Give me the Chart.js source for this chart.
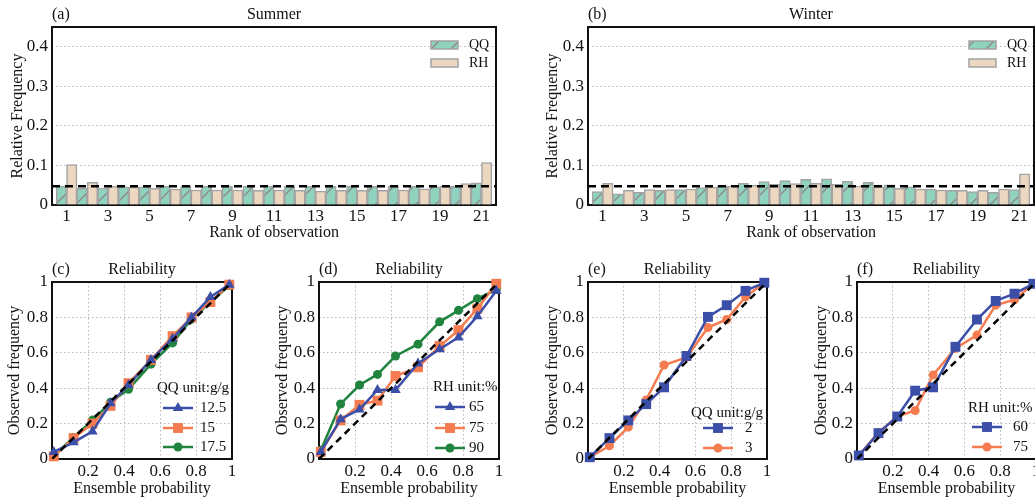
<!DOCTYPE html>
<html>
<head>
<meta charset="utf-8">
<script src="https://cdn.jsdelivr.net/npm/chart.js@4.4.1/dist/chart.umd.min.js"></script>
<style>
  body { margin: 0; width: 1035px; height: 501px; overflow: hidden; background: #fff; position: relative; }
  canvas { position: absolute; }
</style>
</head>
<body>
<canvas id="chartA" width="535" height="245" style="left:0;top:0"></canvas>
<canvas id="chartB" width="512" height="245" style="left:535px;top:0"></canvas>
<canvas id="chartC" width="268" height="256" style="left:0;top:245px"></canvas>
<canvas id="chartD" width="270" height="256" style="left:268px;top:245px"></canvas>
<canvas id="chartE" width="269" height="256" style="left:538px;top:245px"></canvas>
<canvas id="chartF" width="240" height="256" style="left:807px;top:245px"></canvas>

<script>
// rank histogram data (21 ranks)
const ranks = [1, 2, 3, 4, 5, 6, 7, 8, 9, 10, 11, 12, 13, 14, 15, 16, 17, 18, 19, 20, 21];
const rankTicks = [1, 3, 5, 7, 9, 11, 13, 15, 17, 19, 21];
const freqTicks = [0, 0.1, 0.2, 0.3, 0.4];
const uniformFreq = 1 / 21;

const summerQQ = [0.048, 0.042, 0.043, 0.046, 0.046, 0.047, 0.047, 0.047, 0.047, 0.047, 0.048,
                  0.048, 0.047, 0.047, 0.047, 0.047, 0.047, 0.047, 0.046, 0.047, 0.056];
const summerRH = [0.102, 0.057, 0.047, 0.045, 0.042, 0.040, 0.038, 0.038, 0.038, 0.037, 0.038,
                  0.037, 0.035, 0.037, 0.037, 0.037, 0.038, 0.041, 0.047, 0.054, 0.107];
const winterQQ = [0.034, 0.028, 0.032, 0.037, 0.039, 0.044, 0.048, 0.055, 0.059, 0.062, 0.065,
                  0.066, 0.060, 0.057, 0.051, 0.046, 0.040, 0.037, 0.034, 0.032, 0.039];
const winterRH = [0.055, 0.037, 0.039, 0.039, 0.040, 0.045, 0.048, 0.050, 0.052, 0.054, 0.055,
                  0.052, 0.048, 0.046, 0.042, 0.040, 0.038, 0.037, 0.037, 0.040, 0.079];

// reliability diagrams
const probBins = [0.01, 0.12, 0.225, 0.325, 0.425, 0.55, 0.67, 0.775, 0.88, 0.985];
const probTicks = [0, 0.2, 0.4, 0.6, 0.8, 1];
const diagonal = [0, 1];

const qqSummer125 = [0.040, 0.094, 0.156, 0.315, 0.418, 0.560, 0.680, 0.800, 0.915, 0.985];
const qqSummer15  = [0.015, 0.118, 0.200, 0.300, 0.428, 0.560, 0.694, 0.800, 0.887, 0.985];
const qqSummer175 = [0.020, 0.122, 0.220, 0.320, 0.394, 0.536, 0.656, 0.790, 0.885, 0.980];

const rhSummer65 = [0.040, 0.225, 0.280, 0.390, 0.390, 0.540, 0.620, 0.687, 0.807, 0.950];
const rhSummer75 = [0.040, 0.218, 0.306, 0.330, 0.469, 0.518, 0.638, 0.728, 0.850, 0.990];
const rhSummer90 = [0.050, 0.311, 0.418, 0.478, 0.582, 0.649, 0.775, 0.840, 0.906, 0.957];

const qqWinter2 = [0.010, 0.118, 0.218, 0.310, 0.405, 0.582, 0.803, 0.869, 0.950, 0.996];
const qqWinter3 = [0.010, 0.075, 0.180, 0.334, 0.531, 0.574, 0.743, 0.788, 0.916, 0.996];

const rhWinter60 = [0.020, 0.146, 0.240, 0.386, 0.405, 0.634, 0.788, 0.893, 0.934, 0.990];
const rhWinter75 = [0.020, 0.150, 0.240, 0.274, 0.475, 0.625, 0.700, 0.869, 0.900, 0.990];

// colours
const mint = '#8fd3bf';
const tan = '#ecd8c0';
const barEdge = '#a3a3a3';
const blue = '#3c4fa8';
const orange = '#f47c50';
const green = '#20843f';

Chart.defaults.font.family = '"Liberation Serif", "DejaVu Serif", serif';
Chart.defaults.color = '#111';
Chart.defaults.animation = false;

function hatch(bg) {
  const c = document.createElement('canvas');
  c.width = 20; c.height = 20;
  const g = c.getContext('2d');
  g.fillStyle = bg;
  g.fillRect(0, 0, 20, 20);
  g.strokeStyle = '#8c8c8c';
  g.lineWidth = 1.5;
  g.beginPath();
  g.moveTo(0, 20); g.lineTo(20, 0);
  g.moveTo(-5, 5); g.lineTo(5, -5);
  g.moveTo(15, 25); g.lineTo(25, 15);
  g.stroke();
  return g.createPattern(c, 'repeat');
}

// frame + panel titles
const panelPlugin = {
  id: 'panel',
  beforeDatasetsDraw(chart) {
    const a = chart.chartArea, ctx = chart.ctx;
    ctx.save();
    ctx.strokeStyle = '#111';
    ctx.lineWidth = 2;
    ctx.strokeRect(a.left, a.top, a.right - a.left, a.bottom - a.top);
    ctx.restore();
  },
  afterDraw(chart, args, opts) {
    const a = chart.chartArea, ctx = chart.ctx;
    ctx.save();
    ctx.fillStyle = '#111';
    ctx.font = '16px "Liberation Serif", serif';
    ctx.textBaseline = 'middle';
    ctx.textAlign = 'left';
    ctx.fillText(opts.tag, a.left, a.top - 12);
    ctx.textAlign = 'center';
    ctx.fillText(opts.title, (a.left + a.right) / 2, a.top - 12);
    ctx.restore();
  }
};

// legend inside the rank histograms
const barLegend = {
  id: 'barLegend',
  afterDraw(chart) {
    const a = chart.chartArea, ctx = chart.ctx;
    const items = chart.data.datasets.filter(d => d.type !== 'line');
    ctx.save();
    ctx.font = '14px "Liberation Serif", serif';
    ctx.textBaseline = 'middle';
    items.forEach((d, i) => {
      const y = a.top + 14 + i * 18;
      ctx.fillStyle = d.backgroundColor;
      ctx.fillRect(a.right - 65, y, 27, 8);
      ctx.strokeStyle = barEdge;
      ctx.lineWidth = 1.5;
      ctx.strokeRect(a.right - 65, y, 27, 8);
      ctx.fillStyle = '#111';
      ctx.fillText(d.label, a.right - 27, y + 4);
    });
    ctx.restore();
  }
};

function drawMarker(ctx, style, r, x, y, color) {
  ctx.fillStyle = color;
  ctx.strokeStyle = color;
  ctx.beginPath();
  if (style === 'triangle') {
    ctx.moveTo(x, y - r);
    ctx.lineTo(x + r * 0.866, y + r * 0.5);
    ctx.lineTo(x - r * 0.866, y + r * 0.5);
    ctx.closePath();
  } else if (style === 'rect') {
    const s = r * Math.SQRT1_2;
    ctx.rect(x - s, y - s, 2 * s, 2 * s);
  } else {
    ctx.arc(x, y, r, 0, Math.PI * 2);
  }
  ctx.fill();
}

// legend inside the reliability diagrams
const lineLegend = {
  id: 'lineLegend',
  afterDraw(chart, args, o) {
    const a = chart.chartArea, ctx = chart.ctx;
    const items = chart.data.datasets.filter(d => !d.isDiagonal);
    ctx.save();
    ctx.font = '15px "Liberation Serif", serif';
    ctx.textBaseline = 'middle';
    ctx.fillStyle = '#111';
    ctx.fillText(o.title, a.right - o.titleX, a.bottom - o.titleY);
    items.forEach((d, i) => {
      const y = a.bottom - o.rowY[i];
      ctx.strokeStyle = d.borderColor;
      ctx.lineWidth = 2.5;
      ctx.beginPath();
      ctx.moveTo(a.right - o.lineX, y);
      ctx.lineTo(a.right - o.lineX + 30, y);
      ctx.stroke();
      drawMarker(ctx, d.pointStyle, d.pointRadius, a.right - o.lineX + 15, y, d.borderColor);
      ctx.fillStyle = '#111';
      ctx.fillText(d.label, a.right - o.textX, y);
    });
    ctx.restore();
  }
};

function makeRankChart(id, tag, title, qq, rh, geom) {
  const ctx = document.getElementById(id).getContext('2d');
  return new Chart(ctx, {
    type: 'bar',
    data: {
      datasets: [
        {
          type: 'line',
          label: 'uniform',
          data: [{ x: 0.3, y: uniformFreq }, { x: 21.7, y: uniformFreq }],
          borderColor: '#000',
          borderWidth: 2.5,
          borderDash: [8, 5],
          pointRadius: 0,
          order: 0
        },
        {
          label: 'QQ',
          data: ranks.map((r, i) => ({ x: r, y: qq[i] })),
          backgroundColor: hatch(mint),
          borderColor: barEdge,
          borderWidth: 1.5,
          categoryPercentage: 1,
          barPercentage: 1,
          order: 1
        },
        {
          label: 'RH',
          data: ranks.map((r, i) => ({ x: r, y: rh[i] })),
          backgroundColor: tan,
          borderColor: barEdge,
          borderWidth: 1.5,
          categoryPercentage: 1,
          barPercentage: 1,
          order: 1
        }
      ]
    },
    options: {
      responsive: false,
      layout: { padding: { top: 27, right: geom.padRight, left: 0, bottom: 0 } },
      plugins: {
        legend: { display: false },
        tooltip: { enabled: false },
        panel: { tag: tag, title: title }
      },
      scales: {
        x: {
          type: 'linear',
          min: 0.3,
          max: 21.7,
          offset: false,
          afterFit: s => { s.height = 40; },
          afterBuildTicks: s => { s.ticks = rankTicks.map(v => ({ value: v })); },
          grid: { display: false, drawTicks: false, offset: false },
          border: { display: false },
          ticks: { autoSkip: false, maxRotation: 0, padding: 1, font: { size: 17 }, callback: v => String(v) },
          title: { display: true, text: 'Rank of observation', font: { size: 16 }, padding: { top: 0, bottom: 3 } }
        },
        y: {
          min: 0,
          max: 0.45,
          afterFit: s => { s.width = geom.axisW; },
          afterBuildTicks: s => { s.ticks = freqTicks.map(v => ({ value: v })); },
          grid: {
            drawTicks: false,
            lineWidth: 1,
            color: c => (c.tick && c.tick.value === 0) ? 'rgba(0,0,0,0)' : '#b8b8b8'
          },
          border: { display: false, dash: [1.5, 2.5] },
          ticks: { padding: 4, font: { size: 17 }, callback: v => String(v) },
          title: { display: true, text: 'Relative Frequency', font: { size: 16 }, padding: { top: 8, bottom: 0 } }
        }
      }
    },
    plugins: [panelPlugin, barLegend]
  });
}

function makeRelChart(id, tag, series, geom, legend) {
  const ctx = document.getElementById(id).getContext('2d');
  const datasets = series.map(s => ({
    label: s.label,
    data: probBins.map((p, i) => ({ x: p, y: s.values[i] })),
    borderColor: s.color,
    backgroundColor: s.color,
    borderWidth: 2.5,
    pointStyle: s.style,
    pointRadius: s.radius,
    pointBorderWidth: 0,
    clip: false,
    order: 1
  }));
  datasets.push({
    label: 'perfect',
    isDiagonal: true,
    data: diagonal.map(v => ({ x: v, y: v })),
    borderColor: '#000',
    borderWidth: 2.5,
    borderDash: [7, 5],
    pointRadius: 0,
    order: 0
  });
  return new Chart(ctx, {
    type: 'line',
    data: { datasets: datasets },
    options: {
      responsive: false,
      layout: { padding: { top: 37, right: geom.padRight, left: 0, bottom: 0 } },
      plugins: {
        legend: { display: false },
        tooltip: { enabled: false },
        panel: { tag: tag, title: 'Reliability' },
        lineLegend: legend
      },
      scales: {
        x: {
          type: 'linear',
          min: 0,
          max: 1,
          afterFit: s => { s.height = 42; },
          afterBuildTicks: s => { s.ticks = probTicks.map(v => ({ value: v })); },
          grid: {
            drawTicks: false,
            color: c => (c.tick && (c.tick.value === 0 || c.tick.value === 1)) ? 'rgba(0,0,0,0)' : '#b8b8b8'
          },
          border: { display: false, dash: [1.5, 2.5] },
          ticks: { padding: 2, maxRotation: 0, font: { size: 17 }, callback: v => v === 0 ? '' : String(v) },
          title: { display: true, text: 'Ensemble probability', font: { size: 16 }, padding: { top: 0, bottom: 3 } }
        },
        y: {
          min: 0,
          max: 1,
          afterFit: s => { s.width = geom.axisW; },
          afterBuildTicks: s => { s.ticks = probTicks.map(v => ({ value: v })); },
          grid: {
            drawTicks: false,
            color: c => (c.tick && (c.tick.value === 0 || c.tick.value === 1)) ? 'rgba(0,0,0,0)' : '#b8b8b8'
          },
          border: { display: false, dash: [1.5, 2.5] },
          ticks: { padding: 4, font: { size: 17 }, callback: v => String(v) },
          title: { display: true, text: 'Observed frequency', font: { size: 16 }, padding: { top: 5, bottom: 0 } }
        }
      }
    },
    plugins: [panelPlugin, lineLegend]
  });
}

makeRankChart('chartA', '(a)', 'Summer', summerQQ, summerRH, { axisW: 52, padRight: 39 });
makeRankChart('chartB', '(b)', 'Winter', winterQQ, winterRH, { axisW: 53, padRight: 13 });

makeRelChart('chartC', '(c)', [
  { label: '12.5', values: qqSummer125, color: blue, style: 'triangle', radius: 6 },
  { label: '15', values: qqSummer15, color: orange, style: 'rect', radius: 7 },
  { label: '17.5', values: qqSummer175, color: green, style: 'circle', radius: 4.5 }
], { axisW: 52, padRight: 36 },
{ title: 'QQ unit:g/g', titleX: 75, titleY: 71, lineX: 69, textX: 32, rowY: [51, 31, 12] });

makeRelChart('chartD', '(d)', [
  { label: '65', values: rhSummer65, color: blue, style: 'triangle', radius: 6 },
  { label: '75', values: rhSummer75, color: orange, style: 'rect', radius: 7 },
  { label: '90', values: rhSummer90, color: green, style: 'circle', radius: 4.5 }
], { axisW: 51, padRight: 39 },
{ title: 'RH unit:%', titleX: 66, titleY: 72, lineX: 64, textX: 30, rowY: [52, 31, 11] });

makeRelChart('chartE', '(e)', [
  { label: '2', values: qqWinter2, color: blue, style: 'rect', radius: 7 },
  { label: '3', values: qqWinter3, color: orange, style: 'circle', radius: 4.5 }
], { axisW: 50, padRight: 40 },
{ title: 'QQ unit:g/g', titleX: 76, titleY: 46, lineX: 64, textX: 22, rowY: [31, 11] });

makeRelChart('chartF', '(f)', [
  { label: '60', values: rhWinter60, color: blue, style: 'rect', radius: 7 },
  { label: '75', values: rhWinter75, color: orange, style: 'circle', radius: 4.5 }
], { axisW: 50, padRight: 11 },
{ title: 'RH unit:%', titleX: 68, titleY: 51, lineX: 64, textX: 23, rowY: [32, 12] });
</script>
</body>
</html>
